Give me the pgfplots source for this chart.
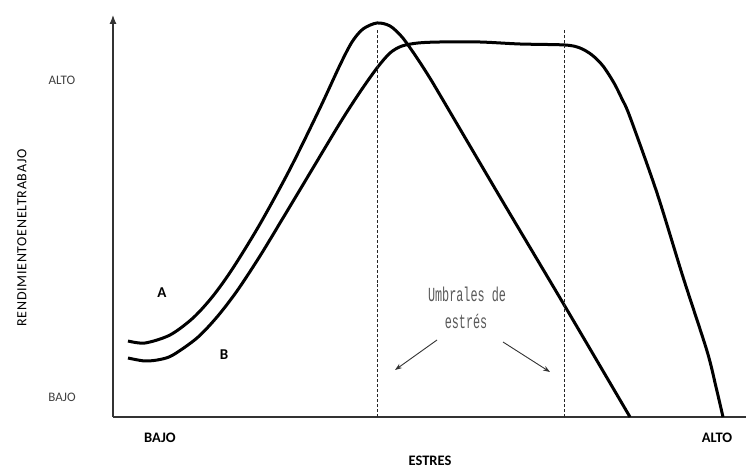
\documentclass[border=0pt]{standalone}
\usepackage{pgfplots}
\pgfplotsset{compat=1.18}
\usepackage{fontspec}
\setmainfont{Carlito}
\newfontfamily\umb{Liberation Mono}
\newfontfamily\spaced[LetterSpace=5]{Carlito}
\usetikzlibrary{arrows.meta}

\begin{document}
\begin{tikzpicture}
  % page = 746 x 470, axis corner at (113,417) in image pixels
  \useasboundingbox (-113bp,-53bp) rectangle (633bp,417bp);
  \begin{axis}[
    at={(0,0)}, anchor=south west,
    scale only axis,
    width=633bp, height=402bp,
    xmin=113, xmax=746,
    ymin=0, ymax=402,
    axis lines=left,
    axis line style={line width=1.2bp, black!80},
    x axis line style={-},
    y axis line style={-{Latex[length=9bp,width=7bp]}},
    xtick=\empty, ytick=\empty,
    clip=false,
  ]
    % curve A
    \addplot[line width=3bp, smooth, tension=0.5] coordinates {
      (128,76) (145,74) (170,82) (193,99) (213,121) (233,149) (260,193)
      (290,248) (320,309) (340,352) (352,375) (363,388) (377,394)
      (390,391) (402,380) (415,362) (428,342) (440,322) (500,220)
      (563,114) (630,0)
    };
    % curve B
    \addplot[line width=3bp, smooth, tension=0.5] coordinates {
      (128,59) (145,56) (160,57.5) (173,62) (197,79) (217,100) (237,126)
      (260,161) (283,199) (307,239) (340,294) (360,325) (377,349)
      (390,364) (402,371) (418,374) (440,375)
      (480,375) (520,373) (565,372) (580,369) (592,362) (603,351)
      (614,334) (622,318) (630,300) (657,224) (683,140) (707,66)
      (716,30) (723,0)
    };
    % stress thresholds
    \addplot[line width=0.8bp, densely dashed, black!85] coordinates {(377,0) (377,387)};
    \addplot[line width=0.8bp, densely dashed, black!85] coordinates {(564,0) (564,387)};

    \draw[-{Stealth[length=7bp,width=5bp]}, line width=0.9bp, black!80]
      (axis cs:437,77) -- (axis cs:395,47);
    \draw[-{Stealth[length=7bp,width=5bp]}, line width=0.9bp, black!80]
      (axis cs:503,75) -- (axis cs:550,45);

    \node[font=\umb\fontsize{20bp}{22bp}\selectfont, text=black!65, xscale=0.59] at (axis cs:467,123) {Umbrales de};
    \node[font=\umb\fontsize{20bp}{22bp}\selectfont, text=black!65, xscale=0.59] at (axis cs:466,96) {estrés};

    \node[font=\bfseries\fontsize{15bp}{16bp}\selectfont] at (axis cs:162,124) {A};
    \node[font=\bfseries\fontsize{15bp}{16bp}\selectfont] at (axis cs:224,62) {B};

    \node[font=\fontsize{13bp}{14bp}\selectfont, text=black!75] at (axis cs:62,337) {ALTO};
    \node[font=\fontsize{13bp}{14bp}\selectfont, text=black!75] at (axis cs:62,20) {BAJO};
    \node[font=\bfseries\fontsize{14.5bp}{16bp}\selectfont] at (axis cs:160,-21) {BAJO};
    \node[font=\bfseries\fontsize{14.5bp}{16bp}\selectfont] at (axis cs:717,-21) {ALTO};
    \node[font=\bfseries\fontsize{14.5bp}{16bp}\selectfont] at (axis cs:430,-44) {ESTRES};
    \node[rotate=90, font=\spaced\fontsize{14bp}{15bp}\selectfont] at (axis cs:22,179) {RENDIMIENTOENELTRABAJO};
  \end{axis}
\end{tikzpicture}
\end{document}
